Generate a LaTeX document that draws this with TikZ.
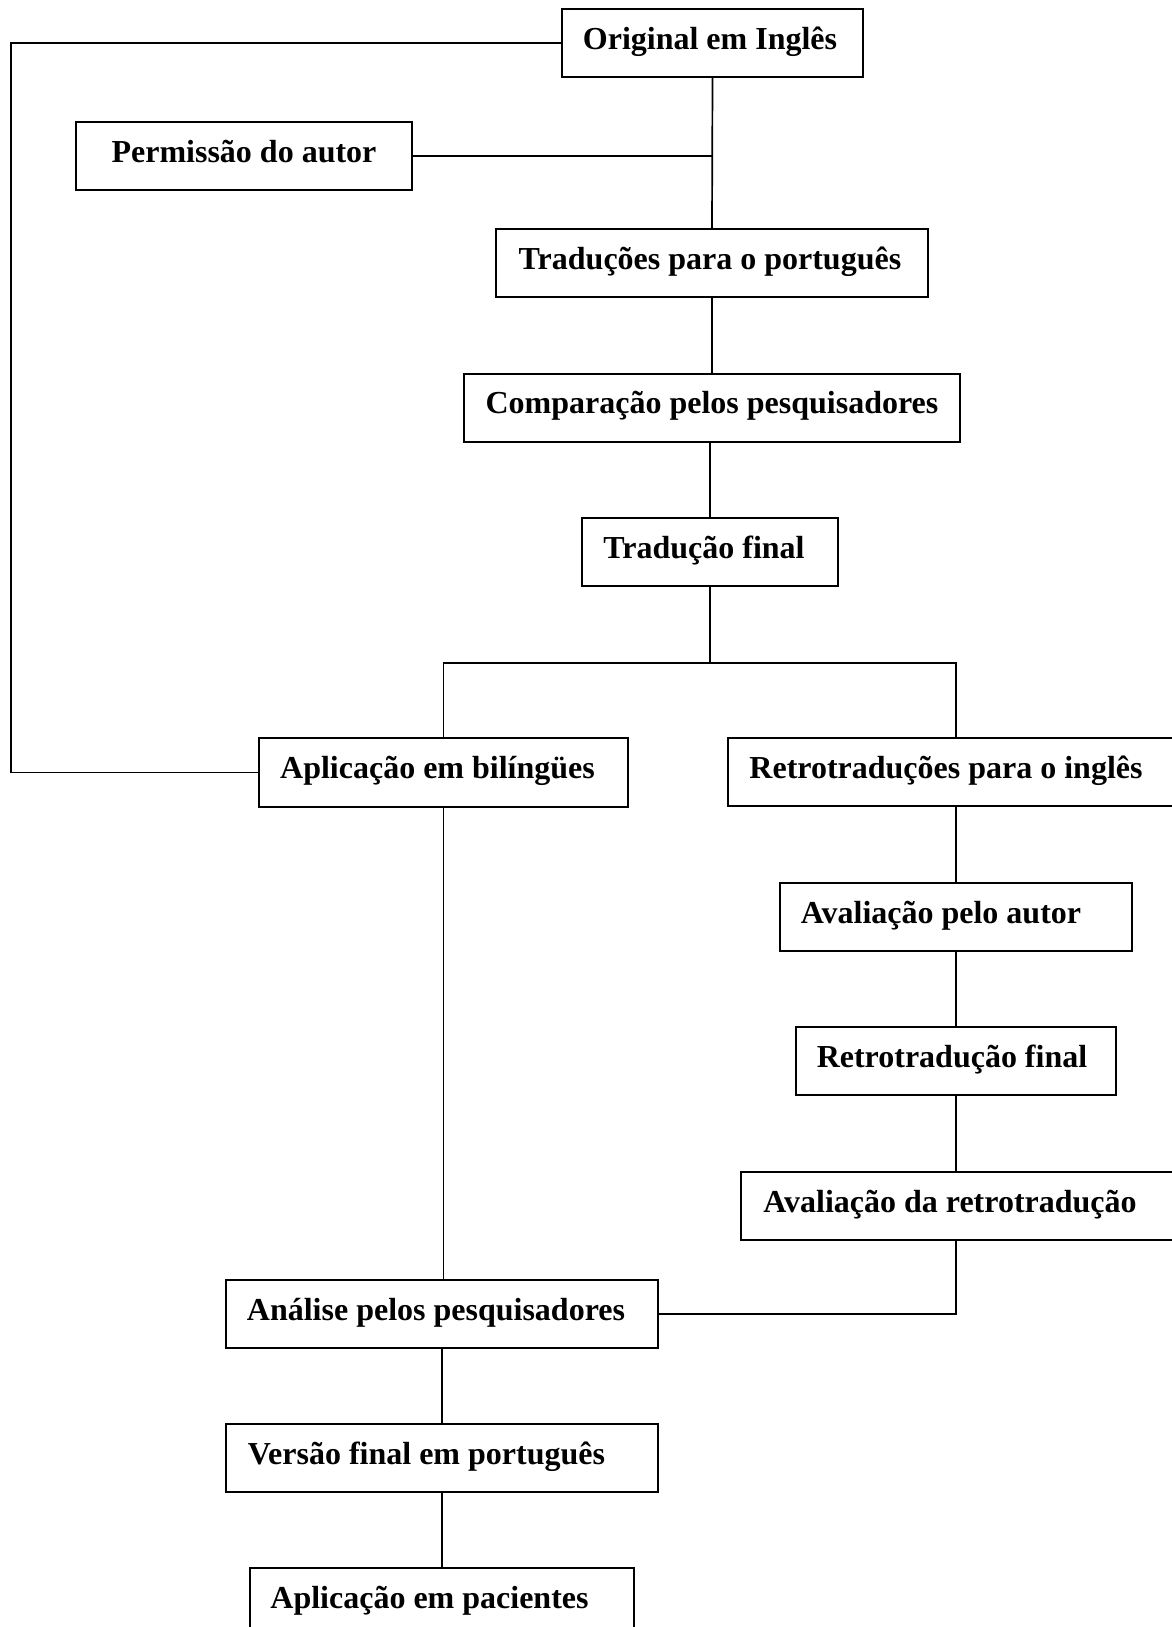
\documentclass[tikz,border=0pt]{standalone}
\usepackage{fontspec}
\setmainfont{Liberation Serif}
\begin{document}
\begin{tikzpicture}[x=1pt,y=-1pt,
  box/.style={draw=black,line width=2pt,rectangle,inner sep=0pt,fill=white},
  txt/.style={inner sep=0pt,anchor=base,font=\fontsize{32}{38}\selectfont\bfseries},
  conn/.style={draw=black,line width=1.7pt}]
\useasboundingbox (0,0) rectangle (1172,1627);
\fill[white] (0,0) rectangle (1172,1627);
\clip (0,0) rectangle (1172,1627);
% connectors first
\coordinate (lx) at (11,0);
\coordinate (br) at (0,663);
% boxes
\node[box,minimum width=301pt,minimum height=68pt] (orig) at (712.5,43) {};
\node[box,minimum width=336pt,minimum height=68pt] (perm) at (244,156) {};
\node[box,minimum width=432pt,minimum height=68pt] (trad) at (712,263) {};
\node[box,minimum width=496pt,minimum height=68pt] (comp) at (712,408) {};
\node[box,minimum width=256pt,minimum height=68pt] (tf) at (710,552) {};
\node[box,minimum width=369pt,minimum height=69pt] (bil) at (443.5,772.5) {};
\node[box,minimum width=462pt,minimum height=68pt] (retro) at (959,772) {};
\node[box,minimum width=352pt,minimum height=68pt] (aval) at (956,917) {};
\node[box,minimum width=320pt,minimum height=68pt] (rf) at (956,1061) {};
\node[box,minimum width=449pt,minimum height=68pt] (ar) at (965.5,1206) {};
\node[box,minimum width=432pt,minimum height=68pt] (an) at (442,1314) {};
\node[box,minimum width=432pt,minimum height=68pt] (vf) at (442,1458) {};
\node[box,minimum width=384pt,minimum height=72pt] (pac) at (442,1604) {};
% texts
\node[txt] at (710,50) {Original em Inglês};
\node[txt] at (244,162) {Permissão do autor};
\node[txt] at (710,269) {Traduções para o português};
\node[txt] at (712,413) {Comparação pelos pesquisadores};
\node[txt] at (704,558) {Tradução final};
\node[txt] at (437.5,778) {Aplicação em bilíngües};
\node[txt] at (946,778) {Retrotraduções para o inglês};
\node[txt] at (941,923) {Avaliação pelo autor};
\node[txt] at (952,1067) {Retrotradução final};
\node[txt] at (950,1212) {Avaliação da retrotradução};
\node[txt] at (436,1320) {Análise pelos pesquisadores};
\node[txt] at (426.5,1464) {Versão final em português};
\node[txt] at (429.5,1608) {Aplicação em pacientes};
% connectors
\draw[conn] (orig.south) -- (trad.north);
\draw[conn] (perm.east) -- (perm.east -| orig.south);
\draw[conn] (trad.south) -- (trad.south |- comp.north);
\draw[conn] (tf.north |- comp.south) -- (tf.north);
\draw[conn] (tf.south) -- (tf.south |- br);
\draw[conn] (bil.north) -- (bil.north |- br) -- (aval.north |- br) -- (aval.north |- retro.north);
\draw[conn] (orig.west) -- (orig.west -| lx) |- (bil.west);
\draw[conn] (aval.north |- retro.south) -- (aval.north);
\draw[conn] (aval.south) -- (rf.north);
\draw[conn] (rf.south) -- (rf.south |- ar.north);
\draw[conn] (rf.south |- ar.south) |- (an.east);
\draw[conn] (bil.south) -- (bil.south |- an.north);
\draw[conn] (an.south) -- (vf.north);
\draw[conn] (vf.south) -- (pac.north);
\end{tikzpicture}
\end{document}
